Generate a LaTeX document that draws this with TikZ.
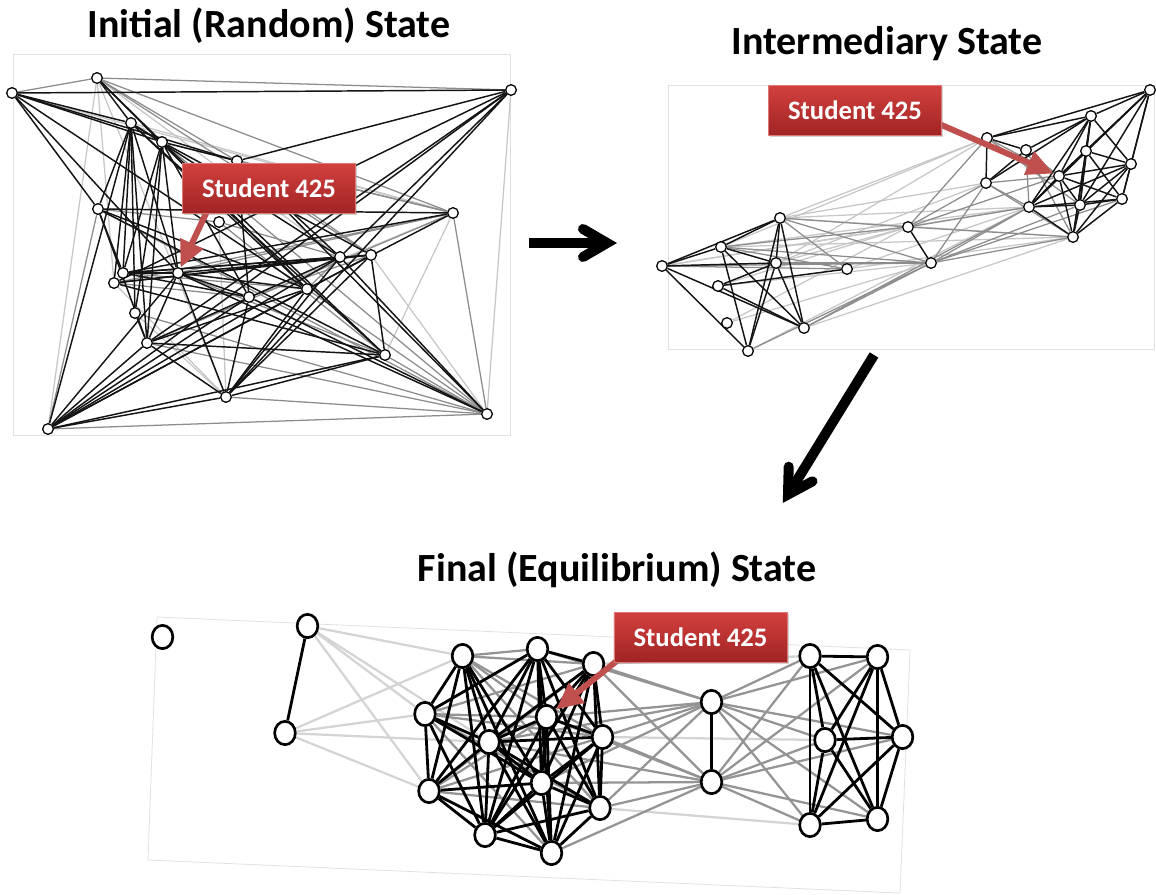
\documentclass[tikz,border=0pt]{standalone}
\usepackage{fontspec}
\setmainfont{Carlito}
\usetikzlibrary{arrows.meta,shapes.geometric,backgrounds,shadows,calc}

\definecolor{redarrow}{RGB}{192,80,77}
\definecolor{boxtop}{RGB}{210,64,62}
\definecolor{boxbot}{RGB}{160,36,36}
\definecolor{boxline}{RGB}{220,120,118}

\tikzset{
  sn/.style={circle, draw=black, fill=white, line width=0.95pt, minimum size=8pt, inner sep=0pt},
  bn/.style={ellipse, draw=black, fill=white, line width=2pt, minimum width=15.5pt, minimum height=17.5pt, inner sep=0pt},
  eb/.style={draw=black!92, line width=1.1pt},
  eg/.style={draw=black!45, line width=0.95pt},
  el/.style={draw=black!22, line width=0.95pt},
  fb/.style={draw=black, line width=2.1pt},
  fg/.style={draw=black!42, line width=1.7pt},
  fl/.style={draw=black!17, line width=1.7pt},
  panelframe/.style={draw=black!12, line width=0.6pt},
  title/.style={font=\bfseries\fontsize{30}{35}\selectfont, inner sep=0pt},
  studentbox/.style={draw=boxline, line width=0.5pt, top color=boxtop, bottom color=boxbot,
    minimum width=130pt, minimum height=37.5pt, inner sep=0pt, text=white,
    font=\bfseries\fontsize{20}{24}\selectfont,
    drop shadow={shadow xshift=1.2pt, shadow yshift=-1.2pt, opacity=0.35}},
  pointer/.style={draw=redarrow, line width=4.5pt, -{Triangle[length=20pt,width=18pt]}},
  bigarrow/.style={draw=black, line width=7.5pt},
  bigbarb/.style={draw=black, line width=7.5pt, line cap=round, line join=miter},
}

\begin{document}
\begin{tikzpicture}[x=0.75pt,y=-0.75pt]
\useasboundingbox (0,0) rectangle (1156,895);

% ---------- titles ----------
\node[title] (t1) at (269,26) {Initial (Random) State};
\node[title] (t2) at (887,44) {Intermediary State};
\node[title] (t3) at (617,570) {Final (Equilibrium) State};

% ---------- initial network ----------
\foreach \n/\x/\y in {a1/12/93, a2/97/78, a3/511/90, a4/131/123, a5/162/142, a6/237/161,
  a7/98/209, a8/219/222, a9/453/213, a10/123/273, a11/114/283, a12/178/273,
  a13/340/257, a14/371/255, a15/307/289, a16/249/297, a17/135/313, a18/147/343,
  a19/385/355, a20/226/397, a21/487/414, a22/48/429}
  \node[sn] (\n) at (\x,\y) {};

% ---------- intermediary network ----------
\foreach \n/\x/\y in {b1/1150/90, b2/1091/116, b3/987/138, b4/1026/150, b5/1086/151,
  b6/1131/164, b7/1059/176, b8/986/183, b9/1029/207, b10/1080/205, b11/1122/199,
  b12/1073/237, b13/780/218, b14/908/227, b15/721/247, b16/662/266, b17/776/263,
  b18/931/263, b19/847/269, b20/718/286, b21/727/323, b22/804/328, b23/748/351}
  \node[sn] (\n) at (\x,\y) {};

% ---------- final network ----------
\foreach \n/\x/\y in {c1/162.5/637, c2/307.5/626, c3/285/733, c4/462.5/656, c5/537.5/649,
  c6/593.5/664, c7/425/714, c8/546.5/717, c9/489/742, c10/602.5/737, c11/429/791,
  c12/541.5/783, c13/600/808, c14/485/835, c15/551.5/853, c16/711.5/702, c17/711.5/782,
  c18/810/656, c19/877.5/657, c20/825/740, c21/902.5/737, c22/810/825, c23/877.5/819}
  \node[bn] (\n) at (\x,\y) {};

\begin{scope}[on background layer]
  % panel frames
  \draw[panelframe] (13,54) rectangle (510,435);
  \draw[panelframe] (668,85) rectangle (1154,349);
  \draw[panelframe] (157,617) -- (910,650) -- (900,893) -- (148,860) -- cycle;

  % initial edges
  \foreach \u/\v in {a2/a22, a2/a20, a2/a11, a3/a21, a1/a9, a8/a20, a9/a16, a9/a19, a11/a20,
    a14/a21, a17/a20, a4/a9, a2/a13}
    \draw[el] (\u) -- (\v);
  \foreach \u/\v in {a1/a2, a2/a6, a2/a9, a2/a14, a2/a3, a5/a9, a5/a21, a6/a9, a6/a14, a7/a8,
    a7/a21, a8/a13, a8/a19, a9/a12, a9/a11, a9/a21, a9/a18, a10/a15, a11/a16, a12/a19,
    a13/a15, a14/a16, a15/a21, a17/a21, a18/a21, a19/a21, a20/a21, a21/a22, a22/a7}
    \draw[eg] (\u) -- (\v);
  \foreach \u/\v in {a1/a3, a1/a4, a1/a5, a1/a6, a1/a7, a1/a12, a1/a15,
    a2/a4, a2/a5, a2/a15,
    a3/a6, a3/a11, a3/a18, a3/a20, a3/a13, a3/a22,
    a4/a7, a4/a10, a4/a11, a4/a17, a4/a18, a4/a12, a4/a15, a4/a19, a4/a13, a4/a5, a4/a22,
    a5/a6, a5/a10, a5/a18, a5/a16, a5/a19, a5/a14, a5/a12, a5/a17,
    a6/a16, a6/a13, a6/a21,
    a7/a9, a7/a10, a7/a18, a7/a15, a7/a19,
    a9/a10, a9/a15,
    a10/a13, a10/a14, a10/a16, a10/a12,
    a11/a13, a11/a14, a11/a19,
    a12/a14, a12/a15, a12/a16, a12/a20, a12/a21, a12/a22, a12/a18,
    a13/a18, a13/a20, a13/a21, a13/a22,
    a14/a19, a14/a20, a14/a22,
    a15/a18, a15/a20, a15/a22,
    a16/a20, a16/a22, a16/a21,
    a17/a18, a18/a19, a18/a20, a18/a22,
    a19/a22, a19/a20, a20/a22}
    \draw[eb] (\u) -- (\v);

  % intermediary edges
  \foreach \u/\v in {b17/b3, b13/b3, b15/b3, b13/b8, b17/b8, b15/b9, b13/b9, b16/b9, b15/b12,
    b16/b14, b21/b14, b20/b14, b23/b9, b22/b12, b19/b9, b19/b12, b20/b18, b21/b18,
    b17/b14, b13/b12}
    \draw[el] (\u) -- (\v);
  \foreach \u/\v in {b13/b14, b13/b18, b15/b14, b16/b18, b17/b18, b15/b18, b14/b9, b14/b7,
    b14/b12, b18/b9, b18/b12, b18/b11, b18/b10, b22/b18, b23/b18, b22/b9, b14/b3, b14/b8,
    b18/b8, b19/b13, b15/b19, b16/b19, b4/b9, b4/b7, b8/b9, b8/b7, b3/b7, b3/b10, b8/b12, b4/b12}
    \draw[eg] (\u) -- (\v);
  \foreach \u/\v in {b1/b2, b1/b3, b1/b5, b1/b6, b1/b7, b1/b9, b1/b10, b1/b11,
    b2/b3, b2/b4, b2/b5, b2/b7, b2/b8, b2/b9, b2/b10, b2/b12, b2/b6,
    b3/b4, b3/b8, b4/b8,
    b5/b6, b5/b7, b5/b9, b5/b10, b5/b11, b5/b12,
    b6/b7, b6/b9, b6/b10, b6/b11, b6/b12,
    b7/b9, b7/b10, b7/b11, b7/b12,
    b9/b10, b9/b11, b9/b12, b10/b11, b10/b12, b11/b12,
    b16/b13, b16/b15, b16/b17, b16/b22, b16/b23,
    b15/b13, b15/b17, b15/b22, b15/b23,
    b13/b23, b13/b22, b13/b17,
    b17/b23, b17/b22, b17/b20,
    b20/b19, b20/b22, b14/b18}
    \draw[eb] (\u) -- (\v);

  % final edges
  \foreach \u/\v in {c2/c4, c2/c7, c2/c9, c2/c11, c3/c4, c3/c7, c3/c9, c3/c11,
    c6/c18, c10/c20, c13/c22}
    \draw[fl] (\u) -- (\v);
  \foreach \u/\v in {c4/c5, c4/c6, c4/c8, c4/c10, c4/c13, c6/c7, c6/c11, c7/c8, c7/c10,
    c7/c13, c7/c15, c8/c11, c10/c11, c11/c13,
    c16/c5, c16/c6, c16/c8, c16/c9, c16/c10, c16/c12, c16/c13,
    c17/c6, c17/c8, c17/c9, c17/c10, c17/c12, c17/c13, c17/c15,
    c16/c18, c16/c19, c16/c20, c16/c21, c16/c22, c16/c23,
    c17/c18, c17/c19, c17/c20, c17/c21, c17/c22, c17/c23}
    \draw[fg] (\u) -- (\v);
  \foreach \u/\v in {c2/c3,
    c4/c7, c4/c9, c4/c11, c4/c12, c4/c14, c4/c15,
    c5/c6, c5/c7, c5/c8, c5/c9, c5/c10, c5/c11, c5/c12, c5/c13, c5/c14, c5/c15,
    c6/c8, c6/c9, c6/c10, c6/c12, c6/c13, c6/c14, c6/c15,
    c7/c9, c7/c11, c7/c12, c7/c14,
    c8/c9, c8/c10, c8/c12, c8/c13, c8/c14, c8/c15,
    c9/c10, c9/c11, c9/c12, c9/c13, c9/c14, c9/c15,
    c10/c12, c10/c13, c10/c14, c10/c15,
    c11/c12, c11/c14, c11/c15,
    c12/c13, c12/c14, c12/c15, c13/c14, c13/c15, c14/c15,
    c16/c17,
    c18/c19, c18/c20, c18/c21, c18/c22, c18/c23,
    c19/c20, c19/c21, c19/c22, c19/c23,
    c20/c21, c20/c22, c20/c23, c21/c22, c21/c23, c22/c23}
    \draw[fb] (\u) -- (\v);
\end{scope}

% ---------- arrows between the panels ----------
\coordinate (h0) at (529,243);
\coordinate (h1) at (602,243);
\coordinate (hv) at (607,243);
\coordinate (hb1) at (583,229);
\coordinate (hb2) at (583,257);
\draw[bigarrow] (h0) -- (h1);
\draw[bigbarb] (hb1) -- (hv) -- (hb2);

\coordinate (d0) at (874,355);
\coordinate (d1) at (791,490);
\coordinate (dv) at (788,494.5);
\coordinate (db1) at (812.5,481.3);
\coordinate (db2) at (788.7,466.7);
\draw[bigarrow] (d0) -- (d1);
\draw[bigbarb] (db1) -- (dv) -- (db2);

% ---------- Student 425 callouts ----------
\coordinate (pA) at (210,205);
\coordinate (pB) at (930,120);
\coordinate (pC) at (628,652);
\draw[pointer] (pA) -- (a12);
\draw[pointer] (pB) -- (b7);
\draw[pointer] (pC) -- (c8);

\node[studentbox] (lbA) at (269,188.5) {Student 425};
\node[studentbox] (lbB) at (855,110.5) {Student 425};
\node[studentbox] (lbC) at (700.5,637) {Student 425};
\end{tikzpicture}
\end{document}
